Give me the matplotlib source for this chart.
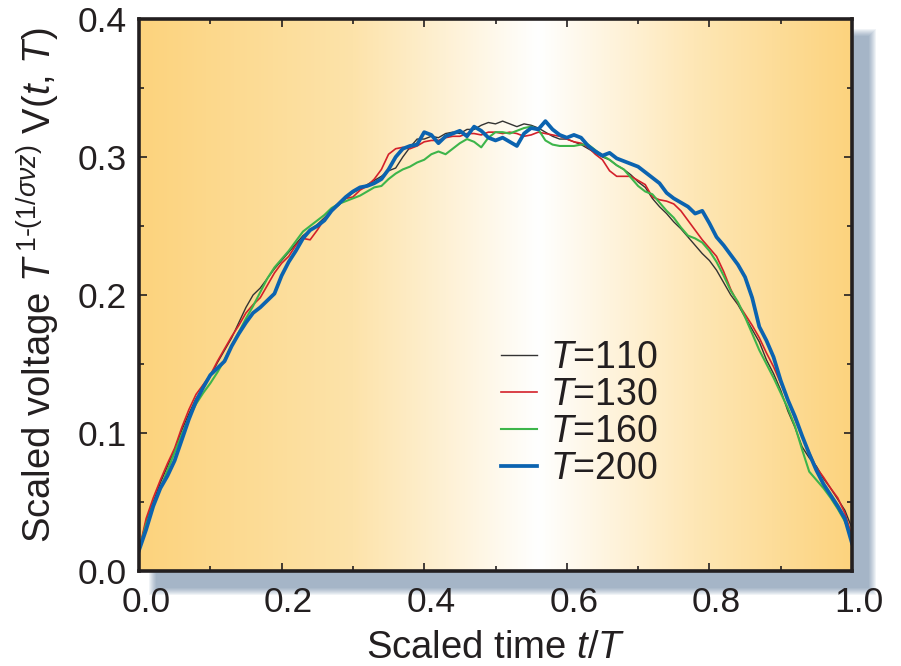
import numpy as np
import matplotlib
matplotlib.use("Agg")
import matplotlib.pyplot as plt
from matplotlib.colors import LinearSegmentedColormap
from matplotlib.patches import Rectangle
from matplotlib.ticker import MultipleLocator
import matplotlib.transforms as mtransforms

plt.rcParams['font.family'] = ['Liberation Sans', 'DejaVu Sans']
plt.rcParams['mathtext.fontset'] = 'custom'
plt.rcParams['mathtext.rm'] = 'Liberation Sans'
plt.rcParams['mathtext.it'] = 'Liberation Sans:italic'
plt.rcParams['mathtext.bf'] = 'Liberation Sans:bold'

# ---------------- data ----------------
t = np.linspace(0.0, 1.0, 101)

labels = [r"$T$=110", r"$T$=130", r"$T$=160", r"$T$=200"]

v110 = [0.015, 0.036, 0.050, 0.064, 0.076, 0.088, 0.102, 0.114, 0.125, 0.133,
        0.141, 0.151, 0.160, 0.169, 0.180, 0.191, 0.200, 0.205, 0.212, 0.219,
        0.225, 0.231, 0.237, 0.243, 0.247, 0.251, 0.256, 0.261, 0.265, 0.270,
        0.274, 0.277, 0.280, 0.283, 0.286, 0.290, 0.292, 0.300, 0.307, 0.313,
        0.313, 0.315, 0.314, 0.317, 0.318, 0.317, 0.320, 0.320, 0.323, 0.325,
        0.324, 0.326, 0.324, 0.322, 0.324, 0.323, 0.321, 0.318, 0.315, 0.313,
        0.313, 0.311, 0.309, 0.306, 0.303, 0.300, 0.298, 0.294, 0.291, 0.287,
        0.282, 0.278, 0.270, 0.264, 0.259, 0.253, 0.248, 0.242, 0.236, 0.230,
        0.225, 0.218, 0.209, 0.200, 0.193, 0.184, 0.175, 0.166, 0.153, 0.143,
        0.131, 0.116, 0.104, 0.090, 0.082, 0.076, 0.067, 0.060, 0.052, 0.044,
        0.031]

v130 = [0.015, 0.038, 0.053, 0.066, 0.078, 0.089, 0.104, 0.117, 0.128, 0.135,
        0.142, 0.152, 0.161, 0.170, 0.178, 0.187, 0.193, 0.198, 0.207, 0.216,
        0.223, 0.228, 0.236, 0.241, 0.240, 0.247, 0.255, 0.262, 0.266, 0.270,
        0.271, 0.276, 0.279, 0.284, 0.291, 0.302, 0.306, 0.307, 0.306, 0.308,
        0.311, 0.312, 0.312, 0.314, 0.315, 0.315, 0.317, 0.317, 0.316, 0.318,
        0.318, 0.317, 0.318, 0.317, 0.315, 0.316, 0.318, 0.317, 0.316, 0.315,
        0.313, 0.311, 0.310, 0.307, 0.302, 0.298, 0.290, 0.286, 0.286, 0.286,
        0.283, 0.280, 0.271, 0.269, 0.268, 0.266, 0.261, 0.254, 0.247, 0.240,
        0.234, 0.228, 0.217, 0.204, 0.194, 0.186, 0.178, 0.169, 0.158, 0.148,
        0.136, 0.124, 0.110, 0.098, 0.086, 0.075, 0.068, 0.060, 0.053, 0.042,
        0.025]

v160 = [0.015, 0.034, 0.048, 0.060, 0.073, 0.086, 0.099, 0.111, 0.121, 0.129,
        0.136, 0.144, 0.153, 0.163, 0.173, 0.183, 0.192, 0.202, 0.212, 0.220,
        0.226, 0.232, 0.239, 0.246, 0.250, 0.254, 0.258, 0.263, 0.266, 0.268,
        0.270, 0.272, 0.275, 0.278, 0.279, 0.284, 0.288, 0.291, 0.293, 0.296,
        0.298, 0.302, 0.304, 0.302, 0.306, 0.310, 0.313, 0.311, 0.307, 0.314,
        0.318, 0.318, 0.317, 0.319, 0.321, 0.322, 0.320, 0.312, 0.309, 0.308,
        0.308, 0.308, 0.309, 0.309, 0.305, 0.301, 0.298, 0.294, 0.291, 0.285,
        0.279, 0.275, 0.273, 0.267, 0.261, 0.256, 0.249, 0.243, 0.241, 0.238,
        0.232, 0.224, 0.214, 0.203, 0.195, 0.184, 0.172, 0.160, 0.150, 0.140,
        0.129, 0.118, 0.105, 0.088, 0.072, 0.066, 0.060, 0.053, 0.045, 0.036,
        0.024]

v200 = [0.015, 0.030, 0.047, 0.060, 0.069, 0.080, 0.095, 0.110, 0.123, 0.133,
        0.142, 0.147, 0.152, 0.163, 0.172, 0.180, 0.187, 0.191, 0.196, 0.201,
        0.214, 0.224, 0.232, 0.241, 0.247, 0.250, 0.254, 0.261, 0.266, 0.271,
        0.275, 0.278, 0.279, 0.281, 0.284, 0.291, 0.300, 0.306, 0.308, 0.309,
        0.318, 0.316, 0.310, 0.315, 0.317, 0.319, 0.315, 0.322, 0.319, 0.314,
        0.312, 0.314, 0.311, 0.308, 0.317, 0.321, 0.320, 0.326, 0.320, 0.316,
        0.314, 0.316, 0.314, 0.308, 0.304, 0.301, 0.303, 0.299, 0.297, 0.295,
        0.293, 0.289, 0.285, 0.281, 0.274, 0.270, 0.267, 0.264, 0.259, 0.261,
        0.252, 0.242, 0.236, 0.229, 0.222, 0.213, 0.198, 0.177, 0.167, 0.155,
        0.138, 0.124, 0.112, 0.098, 0.085, 0.073, 0.063, 0.055, 0.047, 0.038,
        0.020]

series = [v110, v130, v160, v200]
colors = ['#333333', '#d3202a', '#3db54a', '#0b63b0']
widths = [1.0, 1.2, 1.5, 2.7]

xticks = [0.0, 0.2, 0.4, 0.6, 0.8, 1.0]
yticks = [0.0, 0.1, 0.2, 0.3, 0.4]

# ---------------- figure ----------------
W, H = 901, 666
fig = plt.figure(figsize=(W / 100, H / 100), dpi=100)
fig.patch.set_facecolor('white')

L, R, T_, B = 139, 852, 19, 571
ax = fig.add_axes([L / W, 1 - B / H, (R - L) / W, (B - T_) / H])

# soft drop shadow, offset right/down
off = 17
for k in range(8):
    e = (7 - k) * 1.0
    rect = Rectangle(((L + off - e) / W, 1 - (B + off + e) / H),
                     (R - L + 2 * e) / W, (B - T_ + 2 * e) / H,
                     transform=fig.transFigure, facecolor='#4a6a90',
                     edgecolor='none', alpha=0.08, zorder=-5)
    fig.add_artist(rect)

# gradient background
cmap = LinearSegmentedColormap.from_list(
    'bg', [(0.0, '#fcd37d'), (0.30, '#fde3aa'), (0.56, '#ffffff'),
           (0.78, '#fee7b6'), (1.0, '#fcd37e')])
grad = np.linspace(0, 1, 512).reshape(1, -1)
ax.imshow(grad, cmap=cmap, extent=[0, 1, 0, 0.4], aspect='auto',
          zorder=0, interpolation='bilinear')

for y, c, lw, lab in zip(series, colors, widths, labels):
    ax.plot(t, y, color=c, lw=lw, label=lab, zorder=3,
            solid_joinstyle='round')

ax.set_xlim(0, 1)
ax.set_ylim(0, 0.4)
ax.set_xticks(xticks)
ax.set_yticks(yticks)
ax.set_xticklabels([f"{v:.1f}" for v in xticks])
ax.set_yticklabels([f"{v:.1f}" for v in yticks])
ax.xaxis.set_minor_locator(MultipleLocator(0.1))
ax.yaxis.set_minor_locator(MultipleLocator(0.05))

dark = '#231f20'
ax.tick_params(which='both', direction='in', top=True, right=True,
               colors=dark, width=1.2)
ax.tick_params(which='major', length=6)
ax.tick_params(which='minor', length=3.8)
ax.tick_params(axis='x', which='major', labelsize=25.5, pad=11)
ax.tick_params(axis='y', which='major', labelsize=25.5, pad=9)
for sp in ax.spines.values():
    sp.set_linewidth(2.6)
    sp.set_color(dark)
    sp.set_zorder(5)

shift = mtransforms.ScaledTranslation(7 / 100, 0, fig.dpi_scale_trans)
for lbl in ax.get_xticklabels():
    lbl.set_transform(lbl.get_transform() + shift)

ax.set_xlabel(r"Scaled time $t$/$T$", fontsize=27.5, color=dark, labelpad=8)
ax.set_ylabel(r"Scaled voltage $T^{\,1\text{-}(1/\sigma\nu z)}$ V($t$, $T$)",
              fontsize=27.5, color=dark)
ax.yaxis.set_label_coords(-0.108, 0.518)

leg = ax.legend(loc='upper left', bbox_to_anchor=(501 / W, 1 - 340 / H),
                bbox_transform=fig.transFigure, frameon=False, fontsize=27,
                handlelength=0.95, handletextpad=0.35, labelspacing=0.03,
                borderpad=0, borderaxespad=0)
for txt in leg.get_texts():
    txt.set_color(dark)

fig.savefig('out.png', dpi=100, facecolor='white')
